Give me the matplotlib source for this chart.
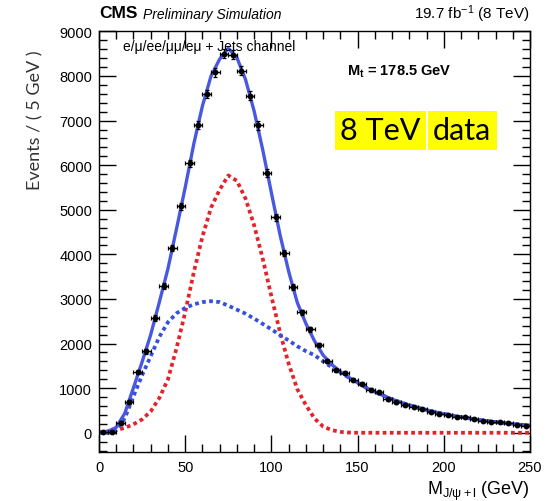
import matplotlib
matplotlib.use('Agg')
import matplotlib.pyplot as plt
from matplotlib.ticker import MultipleLocator
import numpy as np

plt.rcParams['font.family'] = ['Liberation Sans', 'DejaVu Sans']
plt.rcParams['mathtext.fontset'] = 'custom'
plt.rcParams['mathtext.rm'] = 'Liberation Sans'
plt.rcParams['mathtext.it'] = 'Liberation Sans:italic'
plt.rcParams['mathtext.bf'] = 'Liberation Sans:bold'

# simulated events per 5 GeV bin, M(J/psi + l)
bin_centres = np.arange(2.5, 250, 5)
counts = [10, 25, 230, 690, 1360, 1830, 2570, 3290, 4140, 5080,
          6040, 6910, 7600, 8080, 8500, 8480, 8120, 7560, 6890, 5820,
          4830, 4030, 3270, 2700, 2320, 1970, 1610, 1400, 1350, 1190,
          1100, 965, 910, 750, 680, 625, 580, 535, 470, 425,
          405, 360, 355, 315, 270, 245, 245, 225, 180, 160]
count_errs = [15, 15, 30, 40, 50, 55, 60, 70, 75, 80,
              85, 90, 95, 95, 100, 100, 95, 95, 90, 85,
              80, 70, 65, 60, 55, 50, 45, 40, 40, 40,
              35, 35, 35, 30, 30, 30, 30, 25, 25, 25,
              25, 20, 20, 20, 20, 20, 20, 20, 15, 15]

# fit curves sampled every 5 GeV
fit_mass = np.arange(0, 251, 5)
fit_signal = [15, 30, 60, 110, 190, 300, 480, 780, 1200, 1900,
              2700, 3600, 4400, 5050, 5450, 5770, 5650, 5250, 4650, 3900,
              3060, 2250, 1550, 980, 620, 320, 140, 60, 20, 5,
              0, 0, 0, 0, 0, 0, 0, 0, 0, 0,
              0, 0, 0, 0, 0, 0, 0, 0, 0, 0, 0]
fit_combinatoric = [0, 0, 60, 330, 820, 1290, 1720, 2150, 2480, 2680,
                    2800, 2880, 2930, 2950, 2930, 2850, 2760, 2670, 2560, 2440,
                    2320, 2190, 2070, 1940, 1830, 1740, 1600, 1470, 1350, 1235,
                    1120, 1010, 915, 830, 752, 682, 620, 563, 512, 466,
                    424, 386, 352, 321, 292, 266, 242, 220, 200, 182, 165]
fit_total = [15, 30, 120, 440, 1010, 1590, 2200, 2930, 3680, 4580,
             5500, 6480, 7330, 8000, 8380, 8620, 8410, 7920, 7210, 6340,
             5380, 4440, 3620, 2920, 2450, 2060, 1740, 1530, 1370, 1240,
             1120, 1010, 915, 830, 752, 682, 620, 563, 512, 466,
             424, 386, 352, 321, 292, 266, 242, 220, 200, 182, 165]

W, H = 547, 502
fig = plt.figure(figsize=(W / 100, H / 100), dpi=100)
ax = fig.add_axes([99 / W, 1 - 452.5 / H, 431 / W, 421 / H])

ax.plot(fit_mass, fit_signal, color='#e3232b', lw=2.7, linestyle=(0, (1, 0.9)))
ax.plot(fit_mass, fit_combinatoric, color='#3550e0', lw=2.7, linestyle=(0, (1, 0.9)))
ax.plot(fit_mass, fit_total, color='#4a58e0', lw=2.4)
ax.errorbar(bin_centres, counts, xerr=2.5, yerr=count_errs, fmt='o', ms=3.2,
            color='black', ecolor='black', elinewidth=0.9, capsize=1.5,
            capthick=0.9, zorder=5)

ax.set_xlim(0, 250)
ax.set_ylim(-420, 9020)
ax.set_xticks(range(0, 251, 50))
ax.set_yticks(range(0, 9001, 1000))
ax.xaxis.set_minor_locator(MultipleLocator(10))
ax.yaxis.set_minor_locator(MultipleLocator(200))
ax.tick_params(which='both', direction='in', top=True, right=True, width=1,
               labelsize=10.5)
ax.tick_params(which='major', length=12)
ax.tick_params(which='minor', length=6)
ax.tick_params(axis='x', pad=6)
ax.tick_params(axis='y', pad=5)
for s in ax.spines.values():
    s.set_linewidth(1)

def px(x, y):
    return x / W, 1 - y / H

fig.text(*px(35, 120), 'Events / ( 5 GeV )', rotation=90, ha='center',
         va='center', fontsize=13, color='#333333', family=['Lato', 'DejaVu Sans'])
fig.text(*px(530, 491), r'M$_{\mathregular{J/\psi+l}}$ (GeV)', ha='right',
         va='center', fontsize=13)

fig.text(*px(99, 14), 'CMS', weight='bold', fontsize=12.5, va='center')
fig.text(*px(143, 15), 'Preliminary Simulation', style='italic', fontsize=10,
         va='center')
fig.text(*px(530, 14), r'19.7 fb$^{\mathregular{-1}}$ (8 TeV)', ha='right',
         fontsize=11, va='center')

fig.text(*px(123, 47), 'e/μ/ee/μμ/eμ + Jets channel', fontsize=10, va='center')
fig.text(*px(347, 72), r'M$_{\mathbf{t}}$ = 178.5 GeV', weight='bold',
         fontsize=10.5, va='center')

box = dict(facecolor='#ffff00', edgecolor='none', pad=4)
fig.text(*px(340, 131), '8 TeV', fontsize=22, va='center', bbox=box,
         family=['Lato', 'DejaVu Sans'])
fig.text(*px(433, 131), 'data', fontsize=22, va='center', bbox=box,
         family=['Lato', 'DejaVu Sans'])

fig.savefig('out.png', dpi=100)
